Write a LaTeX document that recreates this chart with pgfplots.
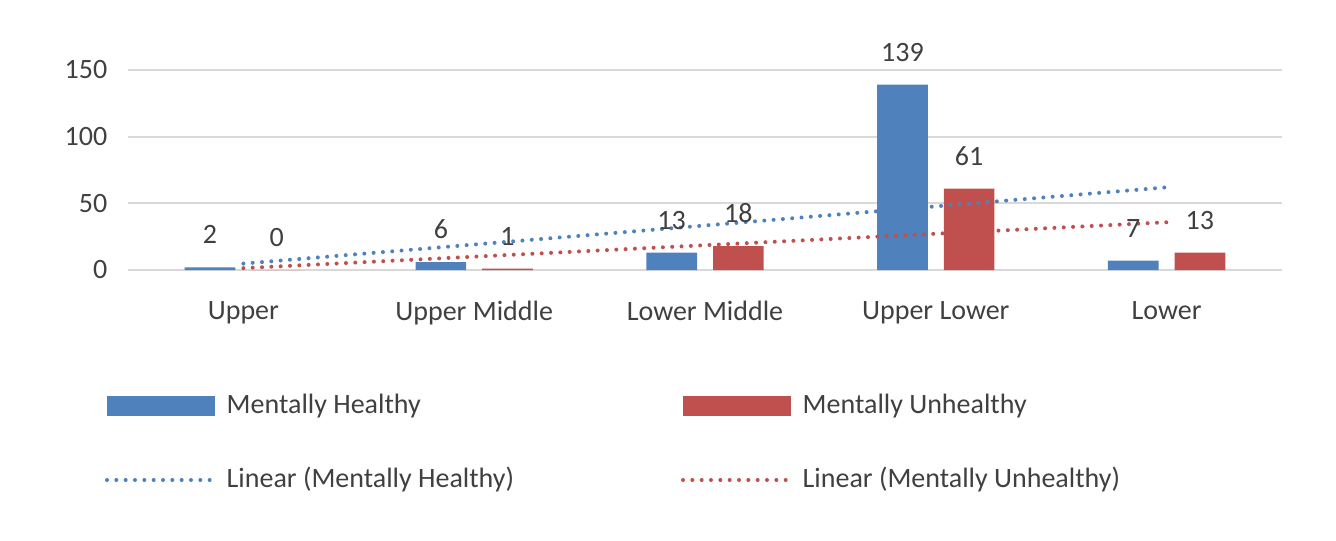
\documentclass[border=0pt]{standalone}
\usepackage{pgfplots}
\pgfplotsset{compat=1.18}
\usepackage{fontspec}
\setmainfont{Carlito}
\definecolor{cblue}{HTML}{4F81BD}
\definecolor{cred}{HTML}{C0504D}
\definecolor{cgrid}{HTML}{D9D9D9}
\definecolor{ctext}{HTML}{404040}
\begin{document}
\begin{tikzpicture}[font=\fontsize{21}{25}\selectfont\color{ctext}]
\path[use as bounding box] (0,0) rectangle (1002pt,405pt);
\begin{axis}[at={(96pt,202.5pt)},anchor=south west, scale only axis,
  width=865.5pt,height=150pt,
  xmin=0.5,xmax=5.5,ymin=0,ymax=150,
  xtick={1,2,3,4,5},
  xticklabels={Upper,Upper Middle,Lower Middle,Upper Lower,Lower},
  ytick={0,50,100,150},
  /pgf/number format/assume math mode=true,
  tick label style={font=\fontsize{21}{25}\selectfont, color=ctext},
  xticklabel style={yshift=-20pt},
  yticklabel style={xshift=-12pt},
  major tick length=0pt,
  ymajorgrids, grid style={cgrid,line width=1.5pt},
  axis line style={draw=none},
  axis x line*=bottom, axis y line*=left,
  clip=false,
]
\draw[cgrid,line width=2pt] (axis cs:0.5,0) -- (axis cs:5.5,0);
\addplot[ybar,bar width=38pt,bar shift=-25pt,fill=cblue,draw=none,
  nodes near coords,
  every node near coord/.style={font=\fontsize{21}{25}\selectfont,color=ctext,anchor=south,yshift=14pt,xshift=-25pt}]
  coordinates {(1,2)(2,6)(3,13)(4,139)(5,7)};
\addplot[ybar,bar width=38pt,bar shift=25pt,fill=cred,draw=none,
  nodes near coords,
  every node near coord/.style={font=\fontsize{21}{25}\selectfont,color=ctext,anchor=south,yshift=14pt,xshift=25pt}]
  coordinates {(1,0)(2,1)(3,18)(4,61)(5,13)};
\addplot[cblue,line width=3pt,line cap=round,dash pattern=on 0pt off 7pt] coordinates {(1,4.8)(5,62)};
\addplot[cred,line width=3pt,line cap=round,dash pattern=on 0pt off 7pt] coordinates {(1,1.4)(5,35.8)};
\end{axis}
\begin{scope}[x=0.75pt,y=0.75pt]
\fill[cblue] (107,124) rectangle (215,144);
\node[anchor=west] at (222,134) {Mentally Healthy};
\fill[cred] (683,124) rectangle (791,144);
\node[anchor=west] at (798,134) {Mentally Unhealthy};
\draw[cblue,line width=3pt,line cap=round,dash pattern=on 0pt off 7pt] (107,60) -- (215,60);
\node[anchor=west] at (222,60) {Linear (Mentally Healthy)};
\draw[cred,line width=3pt,line cap=round,dash pattern=on 0pt off 7pt] (683,60) -- (791,60);
\node[anchor=west] at (798,60) {Linear (Mentally Unhealthy)};
\end{scope}
\end{tikzpicture}
\end{document}
